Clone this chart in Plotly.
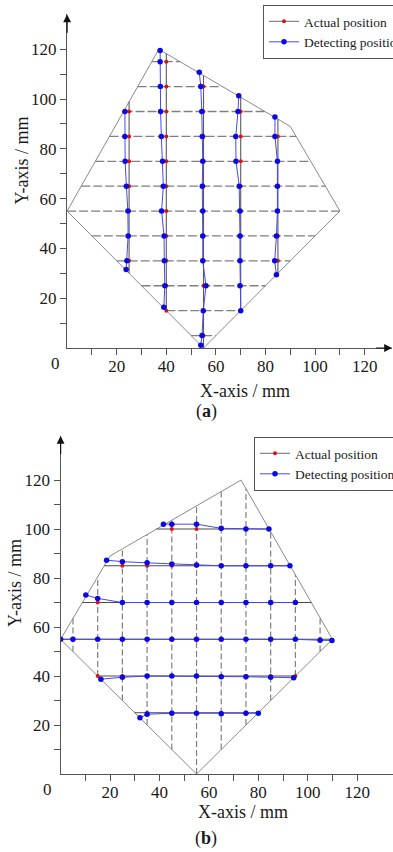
import plotly.graph_objects as go

# ---------------- Panel (a) data ----------------
A_BOUNDARY_X = [0, 37, 90, 110, 55, 0]
A_BOUNDARY_Y = [55, 120, 89, 55, 0, 55]
A_GRID_ROWS_Y = [5, 15, 25, 35, 45, 55, 65, 75, 85, 95, 105, 115]
A_ACTUAL_COLS_X = [25, 40, 55, 70, 85]
A_ACTUAL_Y = [
    [35, 45, 55, 65, 75, 85, 95],
    [15, 25, 35, 45, 55, 65, 75, 85, 95, 105, 115],
    [5, 15, 25, 35, 45, 55, 65, 75, 85, 95, 105],
    [15, 25, 35, 45, 55, 65, 75, 85, 95],
    [35, 45, 55, 65, 75, 85],
]
A_DETECT_X = [
    [23.3, 23.3, 23.4, 23.9, 24.5, 24.6, 24.1, 23.8],
    [37.5, 37.5, 37.6, 37.7, 38.0, 38.5, 38.8, 38.1, 39.1, 39.2, 39.4, 39.0],
    [53.3, 53.9, 54.3, 54.5, 54.7, 54.5, 54.7, 54.7, 54.7, 56.0, 54.9, 54.4, 53.9],
    [69.2, 68.9, 68.0, 68.1, 69.4, 69.7, 69.7, 69.7, 69.7, 70.0],
    [83.8, 83.8, 84.8, 84.8, 84.8, 84.4, 83.7, 84.4],
]
A_DETECT_Y = [
    [95, 85, 75, 65, 55, 45, 35, 31.5],
    [119.5, 115, 105, 95, 85, 75, 65, 55, 45, 35, 25, 16.4],
    [110.8, 105, 95, 85, 75, 65, 55, 45, 35, 25, 15, 5, 1.1],
    [101.3, 95, 85, 75, 65, 55, 45, 35, 25, 15],
    [92.8, 85, 75, 65, 55, 45, 35, 29.4],
]

# ---------------- Panel (b) data ----------------
B_BOUNDARY_X = [0, 20, 73, 110, 55, 0]
B_BOUNDARY_Y = [55, 89, 120, 55, 0, 55]
B_GRID_COLS_X = [5, 15, 25, 35, 45, 55, 65, 75, 85, 95, 105]
B_ACTUAL_ROWS_Y = [25, 40, 55, 70, 85, 100]
B_ACTUAL_X = [
    [35, 45, 55, 65, 75],
    [15, 25, 35, 45, 55, 65, 75, 85, 95],
    [5, 15, 25, 35, 45, 55, 65, 75, 85, 95, 105],
    [15, 25, 35, 45, 55, 65, 75, 85, 95],
    [25, 35, 45, 55, 65, 75, 85],
    [45, 55, 65, 75],
]
B_DETECT_X = [
    [32.1, 35, 45, 55, 65, 75, 80.0],
    [16.3, 25, 35, 45, 55, 65, 75, 85, 94.3],
    [0, 5, 15, 25, 35, 45, 55, 65, 75, 85, 95, 105, 109.8],
    [10.2, 15, 25, 35, 45, 55, 65, 75, 85, 95],
    [18.6, 25, 35, 45, 55, 65, 75, 85, 92.8],
    [41.6, 45, 55, 65, 75, 84.3],
]
B_DETECT_Y = [
    [23.0, 24.4, 24.8, 24.8, 24.6, 24.8, 24.8],
    [38.7, 39.5, 40, 40, 40, 39.7, 39.7, 39.5, 39.3],
    [55, 55, 55, 55, 55, 55, 55, 55, 55, 55, 55, 54.6, 54.5],
    [73.1, 71.7, 70, 70, 70, 70, 70, 70, 70, 70],
    [87.3, 86.7, 86.2, 85.7, 85.3, 85, 85, 85, 85],
    [102, 102, 102, 100.3, 100, 100],
]

TICK_VALS = [10, 20, 30, 40, 50, 60, 70, 80, 90, 100, 110, 120]
TICK_TEXT = ["", "20", "", "40", "", "60", "", "80", "", "100", "", "120"]

SERIF = "Liberation Serif"
W, H = 393, 852


def span(bx, by, c, horizontal=True):
    """Intersections of the line (y=c if horizontal else x=c) with the polygon."""
    vals = []
    for i in range(len(bx) - 1):
        x1, y1, x2, y2 = bx[i], by[i], bx[i + 1], by[i + 1]
        if horizontal:
            if y1 != y2 and (y1 - c) * (y2 - c) <= 0:
                vals.append(x1 + (c - y1) * (x2 - x1) / (y2 - y1))
        else:
            if x1 != x2 and (x1 - c) * (x2 - c) <= 0:
                vals.append(y1 + (c - x1) * (y2 - y1) / (x2 - x1))
    return min(vals), max(vals)


def seg_trace(segs, horizontal, xa, ya, color, dash, width):
    xs, ys = [], []
    for c, (a, b) in segs:
        if horizontal:
            xs += [a, b, None]
            ys += [c, c, None]
        else:
            xs += [c, c, None]
            ys += [a, b, None]
    return go.Scatter(x=xs, y=ys, mode="lines", xaxis=xa, yaxis=ya,
                      line=dict(color=color, width=width, dash=dash),
                      showlegend=False, hoverinfo="skip")


fig = go.Figure()

# ---------- panel (a) ----------
fig.add_trace(go.Scatter(x=A_BOUNDARY_X, y=A_BOUNDARY_Y, mode="lines", xaxis="x", yaxis="y",
                         line=dict(color="#8a8a8a", width=1), showlegend=False, hoverinfo="skip"))
fig.add_trace(seg_trace([(r, span(A_BOUNDARY_X, A_BOUNDARY_Y, r, True)) for r in A_GRID_ROWS_Y],
                        True, "x", "y", "#808080", "9px,3px", 1.3))
fig.add_trace(seg_trace([(c, span(A_BOUNDARY_X, A_BOUNDARY_Y, c, False)) for c in A_ACTUAL_COLS_X],
                        False, "x", "y", "#5a5a5a", "solid", 1.1))
ax_, ay_ = [], []
for c, ys in zip(A_ACTUAL_COLS_X, A_ACTUAL_Y):
    for v in ys:
        ax_ += [c, None]
        ay_ += [v, None]
fig.add_trace(go.Scatter(x=ax_, y=ay_, mode="lines+markers", xaxis="x", yaxis="y",
                         name="Actual position", legend="legend", connectgaps=False,
                         line=dict(color="#6a6a6a", width=1),
                         marker=dict(color="#e01010", size=4)))
dx, dy = [], []
for xs, ys in zip(A_DETECT_X, A_DETECT_Y):
    dx += xs + [None]
    dy += ys + [None]
fig.add_trace(go.Scatter(x=dx, y=dy, mode="lines+markers", xaxis="x", yaxis="y",
                         name="Detecting position", legend="legend",
                         line=dict(color="#4848ee", width=1),
                         marker=dict(color="#0a0ae0", size=5.5)))

# ---------- panel (b) ----------
fig.add_trace(go.Scatter(x=B_BOUNDARY_X, y=B_BOUNDARY_Y, mode="lines", xaxis="x2", yaxis="y2",
                         line=dict(color="#8a8a8a", width=1), showlegend=False, hoverinfo="skip"))
fig.add_trace(seg_trace([(c, span(B_BOUNDARY_X, B_BOUNDARY_Y, c, False)) for c in B_GRID_COLS_X],
                        False, "x2", "y2", "#808080", "6px,3px", 1.2))
fig.add_trace(seg_trace([(r, span(B_BOUNDARY_X, B_BOUNDARY_Y, r, True)) for r in B_ACTUAL_ROWS_Y],
                        True, "x2", "y2", "#4a4a4a", "solid", 1.1))
bx_, by_ = [], []
for r, xs in zip(B_ACTUAL_ROWS_Y, B_ACTUAL_X):
    for v in xs:
        bx_ += [v, None]
        by_ += [r, None]
fig.add_trace(go.Scatter(x=bx_, y=by_, mode="lines+markers", xaxis="x2", yaxis="y2",
                         name="Actual position", legend="legend2", connectgaps=False,
                         line=dict(color="#6a6a6a", width=1),
                         marker=dict(color="#e01010", size=4)))
dx, dy = [], []
for xs, ys in zip(B_DETECT_X, B_DETECT_Y):
    dx += xs + [None]
    dy += ys + [None]
fig.add_trace(go.Scatter(x=dx, y=dy, mode="lines+markers", xaxis="x2", yaxis="y2",
                         name="Detecting position", legend="legend2",
                         line=dict(color="#4848ee", width=1),
                         marker=dict(color="#0a0ae0", size=5.5)))


def px_x(p):
    return p / W


def px_y(p):
    return 1 - p / H


axis_common = dict(showgrid=False, zeroline=False, showline=True, linecolor="#555555",
                   linewidth=1.2, ticks="outside", ticklen=6, tickcolor="#555555",
                   tickwidth=1, tickvals=TICK_VALS, ticktext=TICK_TEXT,
                   tickfont=dict(family=SERIF, size=17, color="#1a1a1a"), fixedrange=True)
xaxis_extra = dict(ticklabelstandoff=-4)

fig.update_layout(
    width=W, height=H,
    margin=dict(l=0, r=0, t=0, b=0, autoexpand=False),
    paper_bgcolor="white", plot_bgcolor="white",
    font=dict(family=SERIF, color="#1a1a1a"),
    xaxis=dict(axis_common, **xaxis_extra, domain=[px_x(67.1), px_x(392)], range=[0, 131], anchor="y"),
    yaxis=dict(axis_common, domain=[px_y(348), px_y(14.4)], range=[0, 134], anchor="x"),
    xaxis2=dict(axis_common, **xaxis_extra, domain=[px_x(60.6), px_x(393)], range=[0, 134.5], anchor="y2"),
    yaxis2=dict(axis_common, domain=[px_y(774), px_y(436)], range=[0, 138], anchor="x2"),
    legend=dict(x=px_x(263), y=px_y(5), xanchor="left", yanchor="top",
                bgcolor="white", bordercolor="#555555", borderwidth=1,
                font=dict(family=SERIF, size=13.5, color="#1a1a1a"),
                itemwidth=30, tracegroupgap=0),
    legend2=dict(x=px_x(254), y=px_y(437), xanchor="left", yanchor="top",
                 bgcolor="white", bordercolor="#555555", borderwidth=1,
                 font=dict(family=SERIF, size=13.5, color="#1a1a1a"),
                 itemwidth=30, tracegroupgap=0),
)

ann = []
txt_font = dict(family=SERIF, size=18, color="#1a1a1a")


def label(text, x, y, angle=0):
    return dict(text=text, x=px_x(x), y=px_y(y), xref="paper", yref="paper",
                xanchor="center", yanchor="middle", showarrow=False,
                font=txt_font, textangle=angle)


# axis titles and panel labels (paper coords)
ann.append(label("X-axis / mm", 245, 391))
ann.append(label("Y-axis / mm", 21.5, 161, -90))
ann.append(label("(<b>a</b>)", 206, 411))
ann.append(label("X-axis / mm", 243, 812))
ann.append(label("Y-axis / mm", 15, 583, -90))
ann.append(label("(<b>b</b>)", 206, 838))
# shared origin labels
ann.append(dict(text="0", x=0, y=0, xref="x", yref="y", xshift=-12, yshift=-15,
                xanchor="center", yanchor="middle",
                showarrow=False, font=dict(family=SERIF, size=17, color="#1a1a1a")))
ann.append(dict(text="0", x=0, y=0, xref="x2", yref="y2", xshift=-13, yshift=-15,
                xanchor="center", yanchor="middle",
                showarrow=False, font=dict(family=SERIF, size=17, color="#1a1a1a")))
# axis arrows
ann.append(dict(text="", x=0, y=134, xref="x", yref="y", ax=0, ay=126, axref="x", ayref="y",
                showarrow=True, arrowhead=2, arrowsize=1.3, arrowwidth=1.2, arrowcolor="#111"))
ann.append(dict(text="", x=131, y=0, xref="x", yref="y", ax=124, ay=0, axref="x", ayref="y",
                showarrow=True, arrowhead=2, arrowsize=1.3, arrowwidth=1.2, arrowcolor="#111"))
ann.append(dict(text="", x=0, y=138, xref="x2", yref="y2", ax=0, ay=130, axref="x2", ayref="y2",
                showarrow=True, arrowhead=2, arrowsize=1.3, arrowwidth=1.2, arrowcolor="#111"))
fig.update_layout(annotations=ann)

fig.write_html(
    "out.html",
    config={"displayModeBar": False},
    post_script="document.body.style.margin='0';document.body.style.padding='0';"
                "document.body.style.overflow='hidden';",
)
